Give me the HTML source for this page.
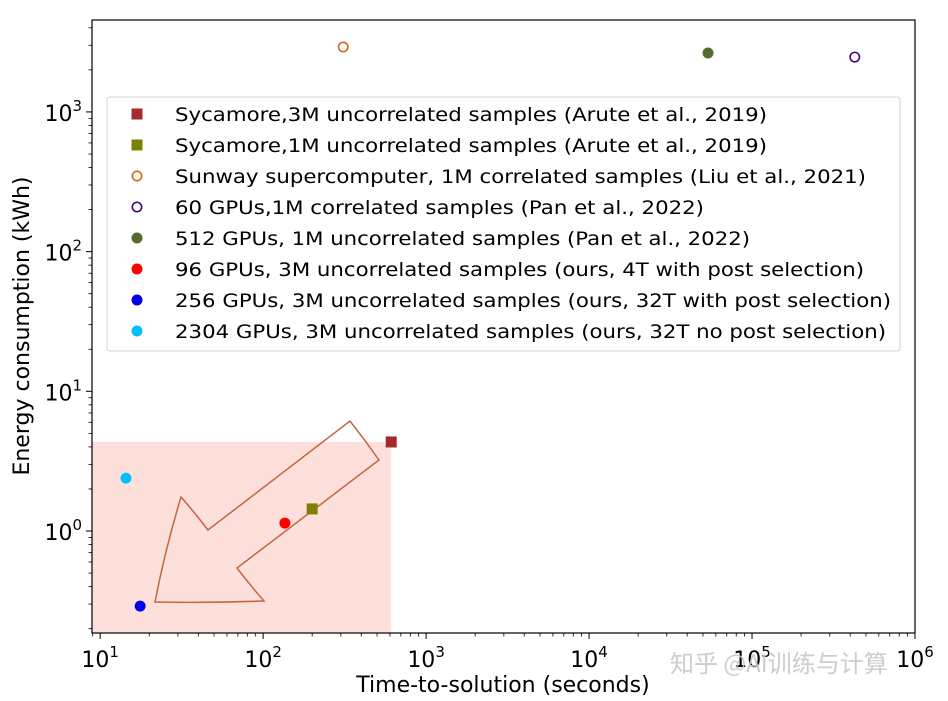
<!DOCTYPE html>
<html><head><meta charset="utf-8"><style>
html,body{margin:0;padding:0;background:#fff;}
svg{display:block;font-family:"DejaVu Sans","Liberation Sans",sans-serif;}
</style></head><body>
<svg id="chart" width="948" height="701" viewBox="0 0 948 701" xmlns="http://www.w3.org/2000/svg">
<g id="plot"></g>
</svg>
<script>
const seriesNames = [
 "Sycamore,3M uncorrelated samples (Arute et al., 2019)",
 "Sycamore,1M uncorrelated samples (Arute et al., 2019)",
 "Sunway supercomputer, 1M correlated samples (Liu et al., 2021)",
 "60 GPUs,1M correlated samples (Pan et al., 2022)",
 "512 GPUs, 1M uncorrelated samples (Pan et al., 2022)",
 "96 GPUs, 3M uncorrelated samples (ours, 4T with post selection)",
 "256 GPUs, 3M uncorrelated samples (ours, 32T with post selection)",
 "2304 GPUs, 3M uncorrelated samples (ours, 32T no post selection)"
];
const timeValues = [611, 200, 310, 427000, 53700, 136, 17.6, 14.4];
const energyValues = [4.34, 1.44, 2917, 2470, 2640, 1.14, 0.29, 2.39];
const markerColors = ["#a52a2a","#808000","#d2691e","#4b0082","#556b2f","#ff0000","#0000ee","#00bfff"];
const markerShapes = ["square","square","open","open","filled","filled","filled","filled"];
const xTickExps = [1,2,3,4,5,6];
const yTickExps = [0,1,2,3];

const NS="http://www.w3.org/2000/svg";
const svg=document.getElementById('chart');
const g=document.getElementById('plot');
const L=92,R=915,T=20,B=633;
const xLogMin=0.950, xLogMax=6.0;
const yLogMin=-0.730, yLogMax=3.658;
const xs=v=>L+(Math.log10(v)-xLogMin)/(xLogMax-xLogMin)*(R-L);
const ys=v=>B-(Math.log10(v)-yLogMin)/(yLogMax-yLogMin)*(B-T);
function el(tag,attrs,parent){const e=document.createElementNS(NS,tag);for(const k in attrs)e.setAttribute(k,attrs[k]);(parent||g).appendChild(e);return e;}

const sh=el('rect',{x:L,y:ys(energyValues[0]),width:xs(timeValues[0])-L,height:B-ys(energyValues[0]),fill:"#fde0dc"});



const ar=el('path',{d:"M350,421 Q365,440 379,460 L237,568 Q250,585 264,601 Q210,603 155,602 Q165,550 181,497 Q195,513 208,530 Z",fill:"none",stroke:"#c8643c","stroke-width":1.5});



const fr=el('rect',{x:L,y:T,width:R-L,height:B-T,fill:"none",stroke:"#000","stroke-width":1.2});



for(const e of xTickExps){
 const x=xs(Math.pow(10,e));
 el('line',{x1:x,y1:B,x2:x,y2:B+6,stroke:"#000","stroke-width":1});
 const t=el('text',{x:x,y:B+34,"font-size":22,"text-anchor":"middle"});
 
 
 t.innerHTML='10<tspan dy="-10" font-size="15">'+e+'</tspan>';
 if(e<6) for(let m=2;m<10;m++){const xm=xs(m*Math.pow(10,e));el('line',{x1:xm,y1:B,x2:xm,y2:B+3.5,stroke:"#000","stroke-width":0.8});}
}
{const xm=xs(9);if(xm>L)el('line',{x1:xm,y1:B,x2:xm,y2:B+3.5,stroke:"#000","stroke-width":0.8});}
for(const e of yTickExps){
 const y=ys(Math.pow(10,e));
 el('line',{x1:L-6,y1:y,x2:L,y2:y,stroke:"#000","stroke-width":1});
 const t=el('text',{x:L-10,y:y+9,"font-size":22,"text-anchor":"end"});
 
 
 t.innerHTML='10<tspan dy="-10" font-size="15">'+e+'</tspan>';
}
for(let e=-1;e<=3;e++)for(let m=2;m<10;m++){const v=m*Math.pow(10,e);const y=ys(v);if(y>T&&y<B)el('line',{x1:L-3.5,y1:y,x2:L,y2:y,stroke:"#000","stroke-width":0.8});}

const xt=el('text',{x:503,y:692,"font-size":22,"text-anchor":"middle"},svg);


xt.textContent='Time-to-solution (seconds)';
const yt=el('text',{x:0,y:0,"font-size":22,"text-anchor":"middle",transform:"translate(29,326) rotate(-90)"},svg);


yt.textContent='Energy consumption (kWh)';

function marker(cx,cy,i,parent,r){
 const c=markerColors[i],s=markerShapes[i];let m;
 if(s==='square') m=el('rect',{x:cx-r,y:cy-r,width:2*r,height:2*r,fill:c},parent);
 else if(s==='open') m=el('circle',{cx:cx,cy:cy,r:r-0.8,fill:"none",stroke:c,"stroke-width":1.6},parent);
 else m=el('circle',{cx:cx,cy:cy,r:r,fill:c},parent);
 return m;
}
for(let i=0;i<seriesNames.length;i++){
 const m=marker(xs(timeValues[i]),ys(energyValues[i]),i,g,5.5);
 
 
}

const lg=el('g',{},svg);


el('rect',{x:107,y:97,width:793,height:254,rx:3,fill:"#fff","fill-opacity":0.85,stroke:"#d0d0d0","stroke-width":1},lg);
const txtW=[592,592,691,529,575,689,716,711];
for(let i=0;i<seriesNames.length;i++){
 const y=114+i*31;
 const m=marker(137,y,i,lg,5.5);
 
 
 const t=el('text',{x:175,y:y+7,"font-size":19,textLength:txtW[i],lengthAdjust:"spacingAndGlyphs"},lg);
 
 
 t.textContent=seriesNames[i];
}

const wm=el('text',{x:670,y:672,"font-size":24,fill:"#c8c8c8","fill-opacity":0.9,"font-family":"'Noto Sans CJK SC',sans-serif"},svg);


wm.textContent='知乎 @AI训练与计算';
</script>
</body></html>
